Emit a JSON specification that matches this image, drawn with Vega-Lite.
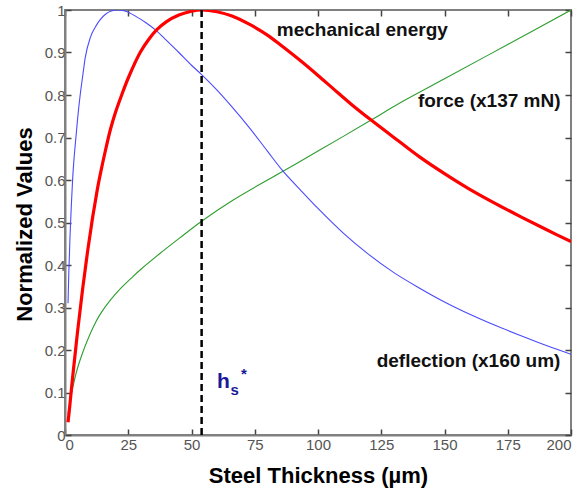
{
  "$schema": "https://vega.github.io/schema/vega-lite/v6.json",
  "width": 506,
  "height": 425,
  "autosize": "none",
  "padding": {"left": 65, "top": 10, "right": 13, "bottom": 58},
  "background": "white",
  "config": {
    "font": "Liberation Sans",
    "view": {"stroke": "#808080", "strokeWidth": 2},
    "axis": {
      "grid": false,
      "domainColor": "#808080",
      "domainWidth": 2,
      "tickColor": "#444444",
      "tickWidth": 1.5,
      "tickSize": -6,
      "labelFont": "Liberation Sans",
      "labelFontSize": 15,
      "labelColor": "#555555",
      "titleFont": "Liberation Sans",
      "titleFontSize": 22,
      "titleFontWeight": "bold",
      "titleColor": "#000000"
    }
  },
  "datasets": {
    "curves": [
      {"x": 1.2, "y": 0.31, "s": "deflection"},
      {"x": 1.5, "y": 0.38, "s": "deflection"},
      {"x": 2, "y": 0.47, "s": "deflection"},
      {"x": 2.5, "y": 0.54, "s": "deflection"},
      {"x": 3, "y": 0.6, "s": "deflection"},
      {"x": 3.5, "y": 0.645, "s": "deflection"},
      {"x": 4, "y": 0.68, "s": "deflection"},
      {"x": 5, "y": 0.745, "s": "deflection"},
      {"x": 6, "y": 0.8, "s": "deflection"},
      {"x": 7, "y": 0.845, "s": "deflection"},
      {"x": 8, "y": 0.888, "s": "deflection"},
      {"x": 10, "y": 0.935, "s": "deflection"},
      {"x": 12, "y": 0.96, "s": "deflection"},
      {"x": 14, "y": 0.978, "s": "deflection"},
      {"x": 16, "y": 0.99, "s": "deflection"},
      {"x": 18, "y": 0.997, "s": "deflection"},
      {"x": 21, "y": 1.0, "s": "deflection"},
      {"x": 24, "y": 0.997, "s": "deflection"},
      {"x": 28, "y": 0.985, "s": "deflection"},
      {"x": 32, "y": 0.97, "s": "deflection"},
      {"x": 36, "y": 0.952, "s": "deflection"},
      {"x": 40, "y": 0.929, "s": "deflection"},
      {"x": 45, "y": 0.9, "s": "deflection"},
      {"x": 50, "y": 0.87, "s": "deflection"},
      {"x": 54, "y": 0.848, "s": "deflection"},
      {"x": 60, "y": 0.812, "s": "deflection"},
      {"x": 66, "y": 0.772, "s": "deflection"},
      {"x": 73, "y": 0.722, "s": "deflection"},
      {"x": 80, "y": 0.668, "s": "deflection"},
      {"x": 86, "y": 0.622, "s": "deflection"},
      {"x": 93, "y": 0.577, "s": "deflection"},
      {"x": 100, "y": 0.533, "s": "deflection"},
      {"x": 110, "y": 0.475, "s": "deflection"},
      {"x": 120, "y": 0.425, "s": "deflection"},
      {"x": 130, "y": 0.382, "s": "deflection"},
      {"x": 140, "y": 0.346, "s": "deflection"},
      {"x": 150, "y": 0.313, "s": "deflection"},
      {"x": 160, "y": 0.284, "s": "deflection"},
      {"x": 170, "y": 0.258, "s": "deflection"},
      {"x": 180, "y": 0.234, "s": "deflection"},
      {"x": 190, "y": 0.211, "s": "deflection"},
      {"x": 200, "y": 0.19, "s": "deflection"},
      {"x": 1.2, "y": 0.05, "s": "force"},
      {"x": 2, "y": 0.08, "s": "force"},
      {"x": 3, "y": 0.11, "s": "force"},
      {"x": 4.6, "y": 0.15, "s": "force"},
      {"x": 6, "y": 0.177, "s": "force"},
      {"x": 8, "y": 0.21, "s": "force"},
      {"x": 11, "y": 0.252, "s": "force"},
      {"x": 14, "y": 0.285, "s": "force"},
      {"x": 18, "y": 0.318, "s": "force"},
      {"x": 22, "y": 0.345, "s": "force"},
      {"x": 26, "y": 0.368, "s": "force"},
      {"x": 30, "y": 0.39, "s": "force"},
      {"x": 37.5, "y": 0.427, "s": "force"},
      {"x": 45, "y": 0.462, "s": "force"},
      {"x": 54, "y": 0.503, "s": "force"},
      {"x": 66.5, "y": 0.553, "s": "force"},
      {"x": 86, "y": 0.62, "s": "force"},
      {"x": 100, "y": 0.668, "s": "force"},
      {"x": 121, "y": 0.741, "s": "force"},
      {"x": 132, "y": 0.78, "s": "force"},
      {"x": 150, "y": 0.838, "s": "force"},
      {"x": 175, "y": 0.919, "s": "force"},
      {"x": 200, "y": 1.0, "s": "force"},
      {"x": 1.2, "y": 0.03, "s": "energy"},
      {"x": 2, "y": 0.075, "s": "energy"},
      {"x": 3, "y": 0.135, "s": "energy"},
      {"x": 4, "y": 0.19, "s": "energy"},
      {"x": 5, "y": 0.245, "s": "energy"},
      {"x": 6, "y": 0.295, "s": "energy"},
      {"x": 7, "y": 0.345, "s": "energy"},
      {"x": 8, "y": 0.39, "s": "energy"},
      {"x": 9, "y": 0.435, "s": "energy"},
      {"x": 10, "y": 0.475, "s": "energy"},
      {"x": 11, "y": 0.515, "s": "energy"},
      {"x": 12, "y": 0.55, "s": "energy"},
      {"x": 13, "y": 0.585, "s": "energy"},
      {"x": 14, "y": 0.615, "s": "energy"},
      {"x": 16, "y": 0.67, "s": "energy"},
      {"x": 18, "y": 0.72, "s": "energy"},
      {"x": 20, "y": 0.76, "s": "energy"},
      {"x": 22.4, "y": 0.8, "s": "energy"},
      {"x": 25, "y": 0.84, "s": "energy"},
      {"x": 29.7, "y": 0.9, "s": "energy"},
      {"x": 33, "y": 0.93, "s": "energy"},
      {"x": 36.2, "y": 0.953, "s": "energy"},
      {"x": 40, "y": 0.972, "s": "energy"},
      {"x": 45, "y": 0.988, "s": "energy"},
      {"x": 50, "y": 0.997, "s": "energy"},
      {"x": 54, "y": 1.0, "s": "energy"},
      {"x": 60, "y": 0.996, "s": "energy"},
      {"x": 66, "y": 0.986, "s": "energy"},
      {"x": 73, "y": 0.966, "s": "energy"},
      {"x": 80, "y": 0.941, "s": "energy"},
      {"x": 86, "y": 0.914, "s": "energy"},
      {"x": 93, "y": 0.881, "s": "energy"},
      {"x": 100, "y": 0.846, "s": "energy"},
      {"x": 106, "y": 0.815, "s": "energy"},
      {"x": 113, "y": 0.779, "s": "energy"},
      {"x": 121, "y": 0.741, "s": "energy"},
      {"x": 132, "y": 0.691, "s": "energy"},
      {"x": 140, "y": 0.655, "s": "energy"},
      {"x": 150, "y": 0.615, "s": "energy"},
      {"x": 160, "y": 0.578, "s": "energy"},
      {"x": 170, "y": 0.545, "s": "energy"},
      {"x": 180, "y": 0.514, "s": "energy"},
      {"x": 190, "y": 0.484, "s": "energy"},
      {"x": 200, "y": 0.455, "s": "energy"}
    ]
  },
  "resolve": {"axis": {"x": "independent", "y": "independent"}},
  "layer": [
    {
      "data": {"name": "curves"},
      "transform": [{"filter": "datum.s === 'force'"}],
      "mark": {"type": "line", "interpolate": "catmull-rom", "clip": true, "color": "#2e9e2e", "strokeWidth": 1.1},
      "encoding": {
        "x": {
          "field": "x", "type": "quantitative",
          "scale": {"domain": [0, 200], "nice": false, "zero": false},
          "axis": {"values": [0, 25, 50, 75, 100, 125, 150, 175, 200], "title": "Steel Thickness (µm)", "labelPadding": 8, "titleY": 47, "titleBaseline": "alphabetic"}
        },
        "y": {
          "field": "y", "type": "quantitative",
          "scale": {"domain": [0, 1], "nice": false},
          "axis": {"values": [0, 0.1, 0.2, 0.3, 0.4, 0.5, 0.6, 0.7, 0.8, 0.9, 1], "format": "~g", "title": "Normalized Values", "labelPadding": 6, "titleX": -41, "titleY": 214, "titleAlign": "center", "titleBaseline": "middle", "titleAngle": -90}
        },
        "order": {"field": "x", "type": "quantitative"}
      }
    },
    {
      "data": {"name": "curves"},
      "transform": [{"filter": "datum.s === 'deflection'"}],
      "mark": {"type": "line", "interpolate": "monotone", "clip": true, "color": "#4a4aff", "strokeWidth": 1.1},
      "encoding": {
        "x": {"field": "x", "type": "quantitative", "axis": null},
        "y": {"field": "y", "type": "quantitative", "axis": null},
        "order": {"field": "x", "type": "quantitative"}
      }
    },
    {
      "data": {"name": "curves"},
      "transform": [{"filter": "datum.s === 'energy'"}],
      "mark": {"type": "line", "interpolate": "catmull-rom", "clip": true, "color": "#ff0000", "strokeWidth": 3.2},
      "encoding": {
        "x": {"field": "x", "type": "quantitative", "axis": null},
        "y": {"field": "y", "type": "quantitative", "axis": null},
        "order": {"field": "x", "type": "quantitative"}
      }
    },
    {
      "data": {"values": [{"h": 54}]},
      "mark": {"type": "rule", "color": "#000000", "strokeWidth": 2.5, "strokeDash": [7, 4]},
      "encoding": {
        "x": {"field": "h", "type": "quantitative", "axis": {"orient": "top", "values": [0, 25, 50, 75, 100, 125, 150, 175, 200], "labels": false, "title": null, "domain": false}}
      }
    },
    {
      "data": {"values": [
        {"x": 83.7, "y": 0.939, "t": "mechanical energy"},
        {"x": 139.5, "y": 0.772, "t": "force (x137 mN)"},
        {"x": 123.2, "y": 0.161, "t": "deflection (x160 um)"}
      ]},
      "mark": {"type": "text", "align": "left", "baseline": "alphabetic", "fontSize": 19, "fontWeight": "bold", "color": "#111111"},
      "encoding": {
        "x": {"field": "x", "type": "quantitative", "axis": null},
        "y": {"field": "y", "type": "quantitative", "axis": {"orient": "right", "values": [0, 0.1, 0.2, 0.3, 0.4, 0.5, 0.6, 0.7, 0.8, 0.9, 1], "labels": false, "title": null, "domain": false}},
        "text": {"field": "t"}
      }
    },
    {
      "data": {"values": [{"x": 60.1, "y": 0.111, "t": "h"}]},
      "mark": {"type": "text", "align": "left", "baseline": "alphabetic", "fontSize": 21, "fontWeight": "bold", "color": "#1a1a99"},
      "encoding": {
        "x": {"field": "x", "type": "quantitative", "axis": null},
        "y": {"field": "y", "type": "quantitative", "axis": null},
        "text": {"field": "t"}
      }
    },
    {
      "data": {"values": [{"x": 65.4, "y": 0.094, "t": "s"}, {"x": 69.6, "y": 0.132, "t": "*"}]},
      "mark": {"type": "text", "align": "left", "baseline": "alphabetic", "fontSize": 15, "fontWeight": "bold", "color": "#1a1a99"},
      "encoding": {
        "x": {"field": "x", "type": "quantitative", "axis": null},
        "y": {"field": "y", "type": "quantitative", "axis": null},
        "text": {"field": "t"}
      }
    }
  ]
}
